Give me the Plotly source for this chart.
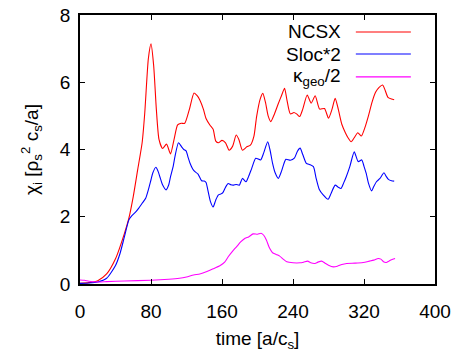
import plotly.graph_objects as go

# NCSX
t_ncsx = [0, 10, 20, 30, 40, 50, 55, 60, 65, 70, 73, 77, 80, 83, 86, 89, 93, 97.5, 102, 106, 110, 114, 118, 123,
          128.5, 132, 135, 139, 142, 146.5, 150, 153, 156, 160, 164, 168, 172, 176, 179, 183, 188, 192, 196, 199,
          203, 206, 209, 212, 215, 219, 223.5, 227, 230.5, 233, 237, 241, 244, 247.5, 251, 256, 260.5, 265, 270,
          275.5, 280, 284, 287.5, 291, 295, 299, 302, 305.5, 309, 313, 317, 321, 325, 329, 333, 337, 341, 344,
          347, 351, 354]
v_ncsx = [0.02, 0.04, 0.1, 0.3, 0.75, 1.5, 1.95, 2.6, 3.4, 4.2, 5.1, 6.7, 7.14, 6.5, 5.2, 4.3, 4.03, 4.16, 3.87,
          4.3, 4.73, 4.78, 4.78, 5.17, 5.68, 5.6, 5.47, 5.2, 4.92, 4.72, 4.6, 4.25, 4.2, 4.27, 4.2, 3.98, 4.1,
          4.43, 4.3, 3.98, 4.08, 4.13, 4.4, 4.98, 5.5, 5.67, 5.4, 5.0, 4.83, 5.05, 5.37, 5.6, 5.82, 5.5, 5.06,
          5.1, 5.06, 4.98, 5.2, 5.62, 5.38, 5.6, 5.2, 5.22, 4.93, 5.2, 5.52, 5.2, 4.75, 4.5, 4.35, 4.23, 4.35,
          4.5, 4.4, 4.65, 5.0, 5.4, 5.7, 5.85, 5.92, 5.75, 5.55, 5.5, 5.48]

# Sloc*2
t_sloc = [0, 10, 20, 30, 40, 45, 50, 55, 58, 62, 66, 70, 74, 77, 80, 82, 85.5, 88, 90, 93, 97, 100, 102, 105,
          107, 111, 114.5, 117, 119.5, 122, 124, 127, 129.5, 133, 137, 140, 142, 144, 147, 150, 153, 156, 159,
          161, 164, 167, 170, 173, 176, 179.5, 183, 187, 190, 193.5, 198, 203.5, 207, 211.5, 214, 217, 220,
          223.5, 227, 230, 232, 237, 241.5, 245, 248, 251, 255, 259, 263, 266, 269.5, 274, 279.5, 283, 287.5,
          291, 294, 297, 300, 304, 309, 313.5, 317.5, 320, 322.5, 325, 328.5, 331, 334, 338, 342.5, 345, 347.5,
          351, 354]
v_sloc = [0.02, 0.03, 0.06, 0.17, 0.55, 0.9, 1.4, 1.9, 2.02, 2.12, 2.25, 2.4, 2.55, 2.8, 3.1, 3.3, 3.47, 3.35,
          3.19, 2.95, 2.8, 2.95, 3.19, 3.5, 3.79, 4.2, 4.08, 4.0, 3.96, 3.75, 3.59, 3.42, 3.34, 3.27, 3.07, 3.06,
          3.02, 2.8, 2.45, 2.29, 2.5, 2.65, 2.68, 2.72, 2.88, 2.99, 2.95, 2.94, 2.96, 2.94, 3.14, 3.04, 3.2,
          3.44, 3.74, 3.69, 3.9, 4.23, 4.0, 3.59, 3.3, 3.14, 3.35, 3.6, 3.71, 3.68, 3.74, 3.95, 4.04, 3.85,
          3.59, 3.55, 3.49, 3.15, 2.82, 2.65, 2.52, 2.7, 2.94, 2.88, 2.84, 3.0, 3.19, 3.49, 3.93, 3.64, 3.69,
          3.5, 3.29, 3.0, 2.77, 2.9, 3.04, 3.14, 3.31, 3.2, 3.11, 3.07, 3.06]

# kappa_geo/2
t_kgeo = [0, 5, 10, 20, 30, 50, 80, 100, 112, 120, 128, 135, 143, 150, 158, 163, 167, 172, 176.5, 181, 186,
          190, 195, 200, 204, 207, 210, 213, 217, 221, 225, 229, 233, 240, 248, 252, 256.5, 260, 264.8, 268,
          272.3, 276, 280, 285.4, 290, 295, 300.5, 310, 319, 326, 331, 336, 339, 342, 345, 348, 351, 355]
v_kgeo = [0.12, 0.11, 0.08, 0.06, 0.07, 0.09, 0.11, 0.14, 0.17, 0.21, 0.27, 0.3, 0.37, 0.45, 0.55, 0.65, 0.81,
          0.98, 1.11, 1.25, 1.36, 1.4, 1.49, 1.48, 1.51, 1.45, 1.31, 1.1, 0.93, 0.88, 0.83, 0.74, 0.66, 0.63,
          0.63, 0.65, 0.68, 0.63, 0.61, 0.65, 0.68, 0.62, 0.56, 0.51, 0.53, 0.58, 0.61, 0.62, 0.64, 0.68, 0.71,
          0.76, 0.74, 0.66, 0.64, 0.68, 0.72, 0.76]

x_ticks = [0, 80, 160, 240, 320, 400]
y_ticks = [0, 2, 4, 6, 8]

names = ["NCSX", "Sloc*2", "κ<sub>geo</sub>/2"]
colors = ["#ff0000", "#0000ff", "#ff00ff"]

FONT = "Liberation Sans, Arial, sans-serif"

fig = go.Figure()
for tx, vy, c in [(t_ncsx, v_ncsx, colors[0]), (t_sloc, v_sloc, colors[1]), (t_kgeo, v_kgeo, colors[2])]:
    fig.add_trace(go.Scatter(x=tx, y=vy, mode="lines", line=dict(color=c, width=1.1, shape="spline", smoothing=0.6),
                             showlegend=False, hoverinfo="skip"))

# gnuplot-style key: text right-aligned, sample line to the right
key_y = [0.937, 0.855, 0.770]
for name, c, ky in zip(names, colors, key_y):
    fig.add_annotation(x=0.741, y=ky, xref="paper", yref="paper", text=name, showarrow=False,
                       xanchor="right", yanchor="middle", font=dict(family=FONT, size=19, color="black"))
    fig.add_shape(type="line", xref="paper", yref="paper", x0=0.777, x1=0.932, y0=ky, y1=ky,
                  line=dict(color=c, width=1.1))

axis_common = dict(showgrid=False, zeroline=False, showline=True, linecolor="black", linewidth=1.5,
                   mirror="ticks", ticks="inside", ticklen=5, tickcolor="black", tickwidth=1,
                   automargin=False, ticklabeloverflow="allow",
                   tickfont=dict(family=FONT, size=19, color="black"))

fig.update_layout(
    width=456, height=352,
    margin=dict(l=80, r=21, t=15, b=68, autoexpand=False),
    paper_bgcolor="white", plot_bgcolor="white",
    xaxis=dict(range=[0, 400], tickvals=x_ticks, ticktext=[str(v) for v in x_ticks], ticklabelstandoff=9,
               title=dict(text="time [a/c<sub>s</sub>]", font=dict(family=FONT, size=19, color="black"), standoff=17),
               **axis_common),
    yaxis=dict(range=[0, 8], tickvals=y_ticks, ticktext=[str(v) for v in y_ticks], ticklabelstandoff=4,
               title=dict(text="χ<sub>i</sub> [ρ<sub>s</sub><sup>2</sup> c<sub>s</sub>/a]",
                          font=dict(family=FONT, size=19, color="black"), standoff=16),
               **axis_common),
)

fig.write_html("out.html", config={"displayModeBar": False},
               post_script="document.body.style.margin='0';")
